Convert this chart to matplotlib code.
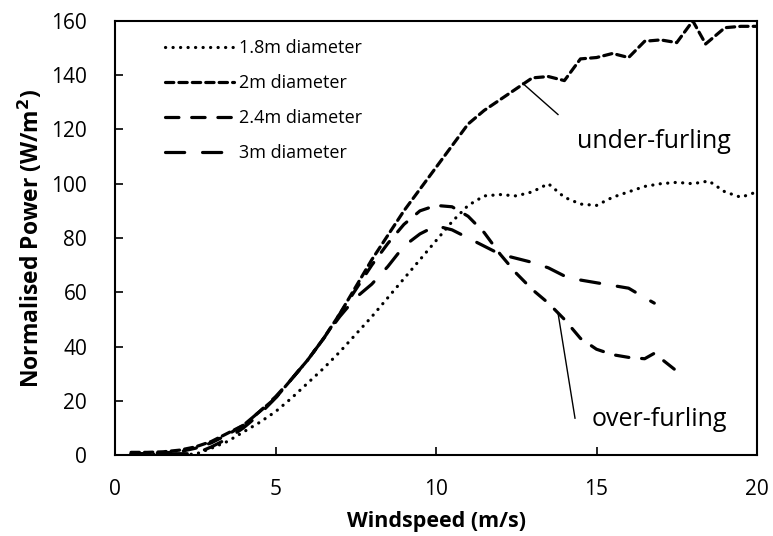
import matplotlib.pyplot as plt

plt.rcParams['font.family'] = ['Open Sans', 'DejaVu Sans']

# Normalised power curves for four rotor diameters
ws_18 = [0.5, 1, 1.5, 2, 2.5, 3, 3.5, 4, 4.5, 5, 5.5, 6, 6.5, 7, 7.5, 8, 8.5, 9, 9.5, 10,
         10.5, 11, 11.5, 12, 12.5, 13, 13.5, 14, 14.5, 15, 15.5, 16, 16.5, 17, 17.5, 18,
         18.5, 19, 19.5, 20]
p_18 = [0.3, 0.3, 0.3, 0.3, 0.3, 2.5, 5, 8.5, 12, 16, 21, 26.5, 32, 38, 44.5, 51, 58, 65, 72, 79,
        86, 92, 95.5, 96, 95.5, 97, 100, 95, 92.5, 92, 95, 97, 99, 100, 100.5, 100,
        101, 97, 95, 97]

ws_2 = [0.5, 1, 1.5, 2, 2.5, 3, 3.5, 4, 4.5, 5, 5.5, 6, 6.5, 7, 7.5, 8, 8.5, 9, 9.5, 10,
        10.5, 11, 11.5, 12, 12.5, 13, 13.5, 14, 14.5, 15, 15.5, 16, 16.5, 17, 17.5, 18,
        18.4, 19, 19.5, 20]
p_2 = [1, 1, 1.2, 1.8, 3, 5, 8, 11, 16, 21, 28, 35, 43, 52, 62, 72, 81, 90, 98, 106,
       114, 122, 127, 131, 135, 139, 139.5, 138, 146, 146.5, 148, 146.5, 152.5, 153, 152, 160,
       151.5, 157.5, 158, 158]

ws_24 = [0.5, 1, 1.5, 2, 2.5, 3, 3.5, 4, 4.5, 5, 5.5, 6, 6.5, 7, 7.5, 8, 8.5, 9, 9.5, 10,
         10.5, 11, 11.5, 12, 12.5, 13, 13.5, 14, 14.5, 15, 15.5, 16, 16.5, 16.8, 17.6]
p_24 = [0.5, 0.5, 0.8, 1.2, 2.5, 4.5, 7.5, 11, 16, 21.5, 28, 35, 43, 52, 61, 70, 78, 85, 90, 92,
        91.5, 88, 82, 74, 67, 61, 56, 50, 43, 39, 37, 36, 35.5, 37.5, 30]

ws_3 = [0.5, 1, 1.5, 2, 2.5, 3, 3.5, 4, 4.5, 5, 5.5, 6, 6.5, 7, 7.5, 8, 8.5, 9, 9.5, 10,
        10.5, 11, 11.5, 12, 12.5, 13, 13.5, 14, 14.5, 15, 15.5, 16, 16.5, 16.8]
p_3 = [0.5, 0.5, 0.5, 0.5, 0.5, 3, 6, 10, 15, 21, 28, 35, 43, 51, 58, 63, 69.5, 77, 81.5, 84.5,
       83, 80, 77, 74, 72.5, 71, 69, 66, 64.5, 63.5, 62.5, 61.5, 58, 56]

fig = plt.figure(figsize=(7.73, 5.36), dpi=100)
ax = fig.add_axes([0.1488, 0.151, 0.8305, 0.810])

lw = 2.3
ax.plot(ws_18, p_18, color='black', lw=lw, dashes=(0.05, 2.3),
        dash_capstyle='round', label='1.8m diameter')
ax.plot(ws_2, p_2, color='black', lw=lw, dashes=(2.6, 1.6),
        dash_capstyle='round', label='2m diameter')
ax.plot(ws_24, p_24, color='black', lw=lw, dashes=(4.2, 4.0),
        dash_capstyle='round', label='2.4m diameter')
ax.plot(ws_3, p_3, color='black', lw=lw, dashes=(6.0, 5.6),
        dash_capstyle='round', label='3m diameter')

# call-outs for the two furling regimes
ax.text(14.4, 115.5, 'under-furling', fontsize=18, va='center', ha='left')
ax.plot([12.7, 13.8], [137, 125.5], color='black', lw=1)
ax.text(14.85, 13, 'over-furling', fontsize=18, va='center', ha='left')
ax.plot([13.8, 14.33], [52.4, 13.6], color='black', lw=1)

ax.set_xlim(0, 20)
ax.set_ylim(0, 160)
ax.set_xticks([0, 5, 10, 15, 20])
ax.set_yticks(range(0, 161, 20))
ax.tick_params(direction='in', length=6, width=1.2, labelsize=15, pad=17)
ax.tick_params(axis='y', pad=20)
for s in ax.spines.values():
    s.set_linewidth(1.5)

ax.set_xlabel('Windspeed (m/s)', fontsize=15.5, fontweight='bold', labelpad=8)
ax.set_ylabel('Normalised Power (W/m$^\\mathbf{2}$)', fontsize=16.5, fontweight='bold',
              labelpad=5)

ax.legend(loc='upper left', bbox_to_anchor=(0.078, 0.958), frameon=False, fontsize=13,
          handlelength=3.8, handletextpad=0.3, labelspacing=0.94,
          borderpad=0, borderaxespad=0)

fig.savefig('out.png', dpi=100)
